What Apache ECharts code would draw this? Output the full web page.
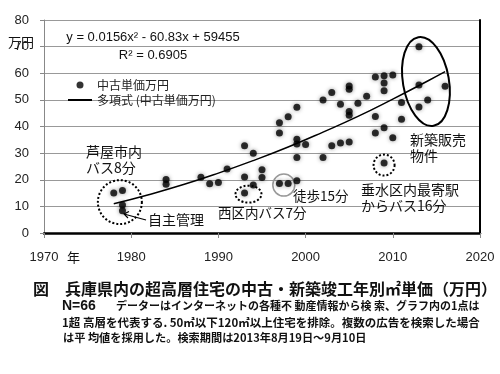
<!DOCTYPE html>
<html><head><meta charset="utf-8">
<script src="https://cdn.jsdelivr.net/npm/echarts@6/dist/echarts.min.js"></script>
<style>html,body{margin:0;padding:0;background:#fff}#c{width:500px;height:374px}</style>
</head><body><div id="c"></div>
<script>
// Scatter data: completion year and unit price (万円 per ㎡)
const builtYears = [1978,1979,1979,1979,1984,1984,1988,1989,1990,1991,1993,1993,1993,1994,1994,1995,1995,1997,1997,1997,1998,1998,1999,1999,1999,1999,1999,2000,2002,2002,2003,2003,2004,2004,2005,2005,2005,2005,2005,2006,2007,2008,2008,2008,2009,2009,2009,2009,2009,2010,2010,2011,2011,2013,2013,2013,2014,2016];
const unitPrices = [15,16,10.5,8.4,20.1,18.3,20.9,18.5,19,24,32.8,21,15,30,18,23.8,20.8,41.4,37.6,18.6,43.7,18.6,47.2,35.2,33.4,28.4,19.6,33.2,50,28.4,52.8,32.8,48.4,33.8,55.2,54,45.6,44.2,34.2,48.7,51.4,58.6,43.8,37.6,59.1,56.3,53.4,39.5,26.3,59.3,35.8,49,42.7,70,55.6,47.3,50,55.1];
// Trend curve
const trendYears = [1978,1982,1986,1990,1994,1998,2002,2006,2010,2014,2016];
const trendValues = [11,14.4,18.2,22.5,27.2,32.3,37.9,43.8,50.3,57.1,60.6];
const xTicks = {min:1970, max:2020, interval:10};
const yTicks = {min:0, max:80, interval:10};
const seriesNames = ['中古単価万円','多項式 (中古単価万円)'];

const chart = echarts.init(document.getElementById('c'), null, {renderer:'canvas'});
const FONT = '"Liberation Sans","Noto Sans CJK JP",sans-serif';
const JFONT = '"Noto Sans CJK JP",sans-serif';
chart.setOption({
  animation:false,
  backgroundColor:'#fff',
  grid:{left:44, right:20, top:20, bottom:141},
  legend:{
    orient:'vertical', left:62, top:74, itemWidth:24, itemHeight:7, itemGap:3,
    textStyle:{fontSize:12, color:'#222', fontFamily:JFONT},
    data:[{name:seriesNames[0], icon:'circle'}, {name:seriesNames[1], itemStyle:{opacity:0}}]
  },
  xAxis:[{
    type:'value', min:xTicks.min, max:xTicks.max, interval:xTicks.interval, position:'bottom',
    axisLine:{show:true, lineStyle:{color:'#888', width:1}},
    axisTick:{show:true, length:5, lineStyle:{color:'#888'}},
    splitLine:{show:false},
    axisLabel:{fontSize:13, color:'#222', margin:18, fontFamily:FONT, formatter:v=>String(v)}
  },{
    type:'value', min:xTicks.min, max:xTicks.max, position:'top',
    axisLine:{show:true, lineStyle:{color:'#000', width:2.5}},
    axisTick:{show:false}, axisLabel:{show:false}, splitLine:{show:false}
  }],
  yAxis:[{
    type:'value', min:yTicks.min, max:yTicks.max, interval:yTicks.interval,
    axisLine:{show:true, lineStyle:{color:'#888', width:1}},
    axisTick:{show:true, length:4, lineStyle:{color:'#888'}},
    splitLine:{show:true, lineStyle:{color:'#999', width:1}},
    axisLabel:{fontSize:13, color:'#222', margin:15, fontFamily:FONT}
  },{
    type:'value', min:yTicks.min, max:yTicks.max, position:'right',
    axisLine:{show:true, lineStyle:{color:'#000', width:2}},
    axisTick:{show:false}, axisLabel:{show:false}, splitLine:{show:false}
  }],
  series:[{
    name:seriesNames[0], type:'scatter', symbol:'circle', symbolSize:7,
    itemStyle:{color:'#000', shadowBlur:4, shadowColor:'rgba(0,0,0,0.5)'},
    data:builtYears.map((y,i)=>[y, unitPrices[i]]), z:3
  },{
    name:seriesNames[1], type:'line', smooth:true, symbol:'none', showSymbol:false,
    lineStyle:{color:'#000', width:1.5}, itemStyle:{color:'#000'},
    data:trendYears.map((y,i)=>[y, trendValues[i]]), z:2
  }]
});

function px(x,y){ return chart.convertToPixel({xAxisIndex:0, yAxisIndex:0}, [x,y]); }
function txt(x,y,s,size,opt){
  return Object.assign({type:'text', x:x, y:y, style:Object.assign({text:s, fontSize:size, fill:'#111', fontFamily:JFONT, textVerticalAlign:'middle'}, opt||{})});
}
const dotted = {fill:'none', stroke:'#000', lineWidth:2, lineDash:[2,2]};
const c1 = px(1978.7, 11.6), c2 = px(1993.45, 14.6), c3 = px(1997.5, 18.0), c4 = px(2009.0, 25.5), c5 = px(2013.8, 56.9);
chart.setOption({graphic:[
  txt(8, 42, '万円', 13, {fontFamily:JFONT}),
  txt(67, 257, '年', 13),
  txt(153, 37, 'y = 0.0156x² - 60.83x + 59455', 13, {textAlign:'center', fontFamily:FONT}),
  txt(153, 55, 'R² = 0.6905', 13, {textAlign:'center', fontFamily:FONT}),
  txt(86, 152, '芦屋市内', 14),
  txt(86, 168, 'バス8分', 14),
  {type:'circle', shape:{cx:c1[0], cy:c1[1], r:22}, style:dotted},
  {type:'polyline', shape:{points:[[146,220],[124,214]]}, style:{stroke:'#000', lineWidth:1.2, fill:'none'}},
  {type:'polyline', shape:{points:[[129,211.5],[124,214],[128,218]]}, style:{stroke:'#000', lineWidth:1.2, fill:'none'}},
  txt(148, 220, '自主管理', 14),
  {type:'ellipse', shape:{cx:c2[0], cy:c2[1], rx:13, ry:8.5}, style:dotted},
  txt(218, 213, '西区内バス7分', 13.5),
  {type:'circle', shape:{cx:c3[0], cy:c3[1], r:11}, style:{fill:'none', stroke:'#999', lineWidth:1.5}},
  txt(293, 196, '徒歩15分', 13.5),
  {type:'circle', shape:{cx:c4[0], cy:c4[1], r:10.5}, style:dotted},
  txt(361, 190, '垂水区内最寄駅', 14),
  txt(361, 206, 'からバス16分', 14),
  {type:'ellipse', x:c5[0], y:c5[1], rotation:0.17, shape:{cx:0, cy:0, rx:23, ry:45}, style:{fill:'none', stroke:'#000', lineWidth:2}},
  txt(410, 140, '新築販売', 14),
  txt(410, 156, '物件', 14),
  txt(33, 289, '図　兵庫県内の超高層住宅の中古・新築竣工年別㎡単価（万円）', 16, {fontWeight:'bold'}),
  txt(62, 306, 'N=66', 14, {fontWeight:'bold', fontFamily:FONT}),
  txt(116, 306, 'データーはインターネットの各種不 動産情報から検 索、グラフ内の1点は', 11, {fontWeight:'bold'}),
  txt(62, 323, '1超 高層を代表する. 50㎡以下120㎡以上住宅を排除。複数の広告を検索した場合', 11.5, {fontWeight:'bold'}),
  txt(63, 338, 'は平 均値を採用した。検索期間は2013年8月19日～9月10日', 11.2, {fontWeight:'bold'})
]});
</script></body></html>
